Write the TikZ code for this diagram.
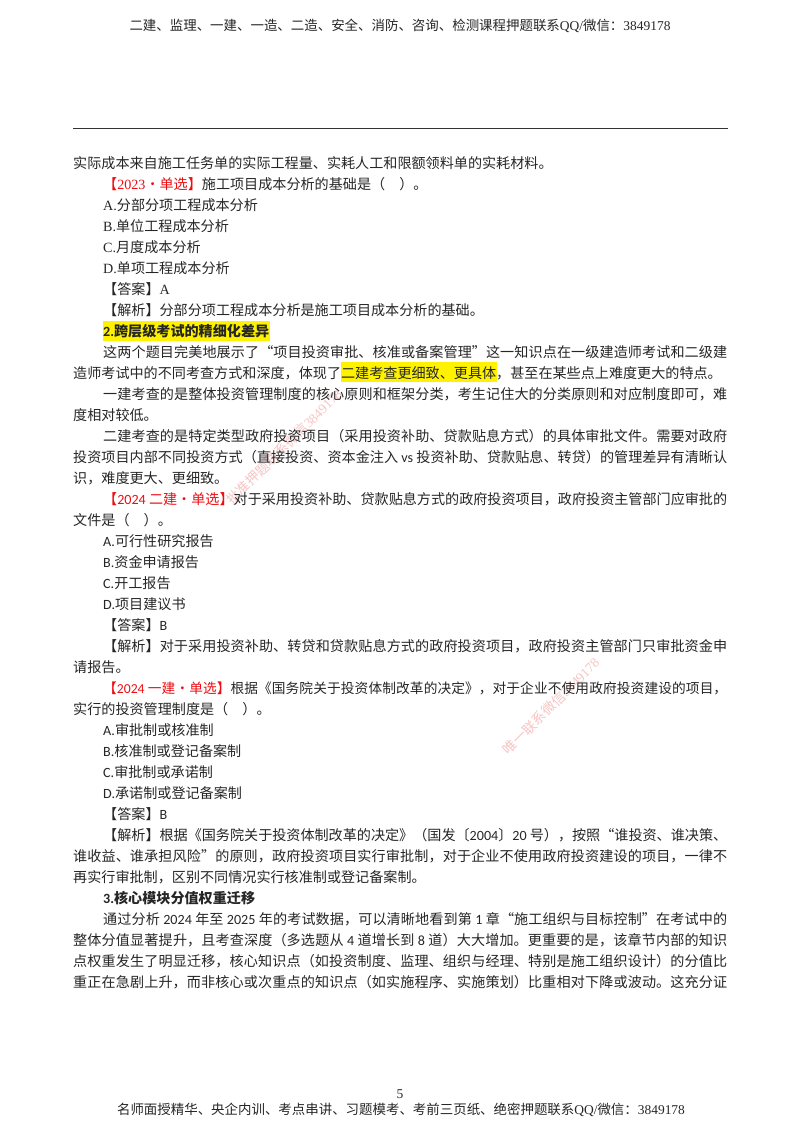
\documentclass[tikz,border=0pt]{standalone}
\usepackage{fontspec}
\setmainfont{Noto Sans CJK SC}
\newfontfamily\timesf{Liberation Serif}
\newfontfamily\califont{Carlito}
\usetikzlibrary{positioning}
\XeTeXlinebreaklocale "zh"
\XeTeXlinebreakskip=0pt plus 1pt minus 0.3pt
\definecolor{markred}{rgb}{0.93, 0.05, 0.07}
\definecolor{wmred}{rgb}{0.97, 0.77, 0.77}
\newcommand{\qred}[1]{{\color{markred}#1}}
\newcommand{\ti}[1]{{\timesf #1}}
\newcommand{\ca}[1]{{\califont #1}}
\tikzstyle{txt} = [anchor=base west, inner sep=0pt, yshift=0.8pt, text=black!85, font=\fontsize{14.1}{21}\selectfont]
\tikzstyle{fullnoind} = [txt, text width=654pt, align=justify, execute at begin node={\parfillskip=0pt\relax}]
\tikzstyle{fullind} = [txt, text width=624pt, align=justify, execute at begin node={\parfillskip=0pt\relax}]
\tikzstyle{headtxt} = [anchor=base, inner sep=0pt, text=black!85, font=\fontsize{13.45}{16}\selectfont]
\tikzstyle{wmark} = [inner sep=0pt, text=wmred, rotate=45, font=\fontsize{13.6}{16}\selectfont]
\begin{document}
\begin{tikzpicture}[x=1pt,y=1pt]
\useasboundingbox (0,0) rectangle (800,-1132);
\fill[white] (0,0) rectangle (800,-1132);
\fill[yellow] (103,-321) rectangle (270,-341);
\fill[yellow] (341,-362) rectangle (497,-382);
\node (wm1) at (284,-447) [wmark] {批准押题联系微信\ti{3849178}};
\node (wm2) at (551,-706) [wmark] {唯一联系微信\ti{3849178}};
\node (head) at (400,-31) [headtxt] {二建、监理、一建、一造、二造、安全、消防、咨询、检测课程押题联系\ti{QQ/}微信：\ti{3849178}};
\coordinate (rulel) at (73,-128.5);
\coordinate (ruler) at (728,-128.5);
\draw[black!80, line width=0.9pt] (rulel)--(ruler);
\node (l0) at (73,-169) [txt] {实际成本来自施工任务单的实际工程量、实耗人工和限额领料单的实耗材料。};
\node (l1) at (103,-190) [txt] {\qred{【\ti{2023}·单选】}施工项目成本分析的基础是（\quad）。};
\node (l2) at (103,-211) [txt] {\ti{A.}分部分项工程成本分析};
\node (l3) at (103,-232) [txt] {\ti{B.}单位工程成本分析};
\node (l4) at (103,-253) [txt] {\ti{C.}月度成本分析};
\node (l5) at (103,-274) [txt] {\ti{D.}单项工程成本分析};
\node (l6) at (103,-295) [txt] {【答案】\ti{A}};
\node (l7) at (103,-316) [txt] {【解析】分部分项工程成本分析是施工项目成本分析的基础。};
\node (l8) at (103,-337) [txt] {\bfseries\ca{2.}跨层级考试的精细化差异};
\node (l9) at (103,-358) [fullind] {这两个题目完美地展示了“项目投资审批、核准或备案管理”这一知识点在一级建造师考试和二级建};
\node (l10) at (73,-379) [txt] {造师考试中的不同考查方式和深度，体现了二建考查更细致、更具体，甚至在某些点上难度更大的特点。};
\node (l11) at (103,-400) [fullind] {一建考查的是整体投资管理制度的核心原则和框架分类，考生记住大的分类原则和对应制度即可，难};
\node (l12) at (73,-421) [txt] {度相对较低。};
\node (l13) at (103,-442) [fullind] {二建考查的是特定类型政府投资项目（采用投资补助、贷款贴息方式）的具体审批文件。需要对政府};
\node (l14) at (73,-463) [fullnoind] {投资项目内部不同投资方式（直接投资、资本金注入 \ca{vs} 投资补助、贷款贴息、转贷）的管理差异有清晰认};
\node (l15) at (73,-484) [txt] {识，难度更大、更细致。};
\node (l16) at (103,-505) [fullind] {\qred{【\ca{2024} 二建·单选】}对于采用投资补助、贷款贴息方式的政府投资项目，政府投资主管部门应审批的};
\node (l17) at (73,-526) [txt] {文件是（\quad）。};
\node (l18) at (103,-547) [txt] {\ca{A.}可行性研究报告};
\node (l19) at (103,-568) [txt] {\ca{B.}资金申请报告};
\node (l20) at (103,-589) [txt] {\ca{C.}开工报告};
\node (l21) at (103,-610) [txt] {\ca{D.}项目建议书};
\node (l22) at (103,-631) [txt] {【答案】\ca{B}};
\node (l23) at (103,-652) [fullind] {【解析】对于采用投资补助、转贷和贷款贴息方式的政府投资项目，政府投资主管部门只审批资金申};
\node (l24) at (73,-673) [txt] {请报告。};
\node (l25) at (103,-694) [fullind, font=\fontsize{13.7}{21}\selectfont] {\qred{【\ca{2024} 一建·单选】}根据《国务院关于投资体制改革的决定》，对于企业不使用政府投资建设的项目，};
\node (l26) at (73,-715) [txt] {实行的投资管理制度是（\quad）。};
\node (l27) at (103,-736) [txt] {\ca{A.}审批制或核准制};
\node (l28) at (103,-757) [txt] {\ca{B.}核准制或登记备案制};
\node (l29) at (103,-778) [txt] {\ca{C.}审批制或承诺制};
\node (l30) at (103,-799) [txt] {\ca{D.}承诺制或登记备案制};
\node (l31) at (103,-820) [txt] {【答案】\ca{B}};
\node (l32) at (103,-841) [fullind] {【解析】根据《国务院关于投资体制改革的决定》（国发〔\ca{2004}〕\ca{20} 号），按照“谁投资、谁决策、};
\node (l33) at (73,-862) [fullnoind] {谁收益、谁承担风险”的原则，政府投资项目实行审批制，对于企业不使用政府投资建设的项目，一律不};
\node (l34) at (73,-883) [txt] {再实行审批制，区别不同情况实行核准制或登记备案制。};
\node (l35) at (103,-904) [txt] {\bfseries\ca{3.}核心模块分值权重迁移};
\node (l36) at (103,-925) [fullind] {通过分析 \ca{2024} 年至 \ca{2025} 年的考试数据，可以清晰地看到第 \ca{1} 章“施工组织与目标控制”在考试中的};
\node (l37) at (73,-946) [fullnoind] {整体分值显著提升，且考查深度（多选题从 \ca{4} 道增长到 \ca{8} 道）大大增加。更重要的是，该章节内部的知识};
\node (l38) at (73,-967) [fullnoind] {点权重发生了明显迁移，核心知识点（如投资制度、监理、组织与经理、特别是施工组织设计）的分值比};
\node (l39) at (73,-988) [fullnoind] {重正在急剧上升，而非核心或次重点的知识点（如实施程序、实施策划）比重相对下降或波动。这充分证};
\node (pageno) at (400,-1098) [headtxt] {\ti{5}};
\node (foot) at (401,-1114) [headtxt] {名师面授精华、央企内训、考点串讲、习题模考、考前三页纸、绝密押题联系\ti{QQ/}微信：\ti{3849178}};
\end{tikzpicture}
\end{document}
